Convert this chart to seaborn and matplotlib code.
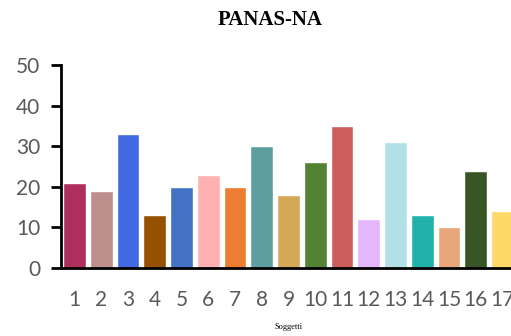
import matplotlib
matplotlib.use("Agg")
import matplotlib.pyplot as plt
import seaborn as sns
import pandas as pd

# PANAS-NA scores per subject
soggetti = [str(i) for i in range(1, 18)]
punteggi = [21, 19, 33, 13, 20, 23, 20, 30, 18, 26, 35, 12, 31, 13, 10, 24, 14]
colori = ["#AF2F5C", "#BC8E8C", "#4169E1", "#955000", "#4472C4", "#FFB1B1",
          "#ED7D31", "#5F9EA0", "#D5A858", "#548235", "#CD5C5C", "#E4B7FD",
          "#B1E0E7", "#21B2AB", "#E7A77B", "#375623", "#FED866"]
y_ticks = [0, 10, 20, 30, 40, 50]

df = pd.DataFrame({"Soggetti": soggetti, "Punteggio": punteggi})

sns.set_style("white")
plt.rcParams["font.family"] = ["Lato", "DejaVu Sans"]

fig = plt.figure(figsize=(5.11, 3.36), dpi=100)
ax = fig.add_axes([61 / 511, 1 - 268 / 336, 455 / 511, 203 / 336])

sns.barplot(data=df, x="Soggetti", y="Punteggio", hue="Soggetti",
            palette=colori, legend=False, width=0.85, saturation=1, ax=ax)

ax.set_ylim(0, 50)
ax.set_xlim(-0.5, len(soggetti) - 0.5)
ax.set_yticks(y_ticks)
ax.set_yticklabels([str(v) for v in y_ticks])

# category boundary tick marks, labels centred on bars
ax.set_xticks([i - 0.5 for i in range(len(soggetti) + 1)], minor=True)
ax.tick_params(axis="x", which="minor", length=7, width=2, color="black", direction="out")
ax.tick_params(axis="x", which="major", length=0, pad=16, labelsize=15, labelcolor="#595959")
ax.tick_params(axis="y", which="major", length=7, width=2, color="black", direction="out",
               left=True, pad=8, labelsize=15, labelcolor="#595959")

for side in ["top", "right"]:
    ax.spines[side].set_visible(False)
for side in ["left", "bottom"]:
    ax.spines[side].set_color("black")
    ax.spines[side].set_linewidth(2)

ax.set_ylabel("")
ax.set_xlabel("Soggetti", fontsize=6, family="Liberation Serif", color="black", labelpad=9)

fig.text(270 / 511, 1 - 20 / 336, "PANAS-NA", ha="center", va="center",
         fontsize=15, fontweight="bold", family="Liberation Serif", color="black")

fig.savefig("out.png", dpi=100)
